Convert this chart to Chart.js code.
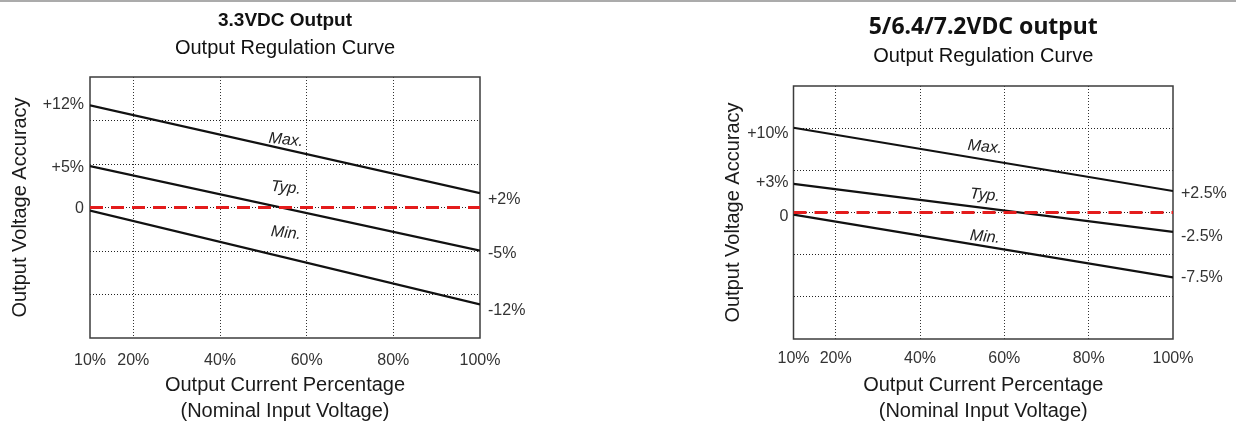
<!DOCTYPE html>
<html lang="en">
<head>
    <meta charset="UTF-8">
    <title>Output Regulation Curves</title>
    <script src="https://cdn.jsdelivr.net/npm/chart.js"></script>
    <style>
        body { margin: 0; width: 1236px; height: 426px; overflow: hidden; position: relative; background: #fff; }
        .rule { position: absolute; left: 0; top: 0; width: 1236px; height: 2px; background: #ababab; }
        canvas { position: absolute; top: 0; }
    </style>
</head>
<body>
    <div class="rule"></div>
    <canvas id="chart33" width="580" height="426" style="left:0; width:580px; height:426px"></canvas>
    <canvas id="chart5" width="536" height="426" style="left:720px; width:536px; height:426px"></canvas>

    <script>
        // x = output current (%), y = deviation in grid divisions (the drawing is schematic)
        const currentPct = [10, 100];
        const xTicks = [10, 20, 40, 60, 80, 100];
        const nominal = [0, 0];
        const curveNames = ['Max.', 'Typ.', 'Min.'];

        // 3.3VDC output
        const max33 = [2.35, 0.33];
        const typ33 = [0.95, -0.99];
        const min33 = [-0.07, -2.23];
        const startLabels33 = ['+12%', '+5%', '0'];
        const endLabels33 = ['+2%', '-5%', '-12%'];

        // 5/6.4/7.2VDC output
        const max5 = [2.01, 0.51];
        const typ5 = [0.68, -0.46];
        const min5 = [-0.05, -1.54];
        const startLabels5 = ['+10%', '+3%', '0'];
        const endLabels5 = ['+2.5%', '-2.5%', '-7.5%'];

        Chart.defaults.font.family = "'Liberation Sans', Arial, sans-serif";

        function points(series) {
            return currentPct.map((x, i) => ({ x: x, y: series[i] }));
        }

        function curve(series) {
            return { data: points(series), borderColor: '#111', borderWidth: 2.2, pointRadius: 0, fill: false };
        }

        // frame, left/right percentage labels and the Max./Typ./Min. names
        function marksPlugin(cfg) {
            return {
                id: 'marks',
                beforeDatasetsDraw(chart) {
                    const { ctx, chartArea: a } = chart;
                    ctx.save();
                    ctx.strokeStyle = '#3c3c3c';
                    ctx.lineWidth = 1.5;
                    ctx.strokeRect(a.left, a.top, a.right - a.left, a.bottom - a.top);
                    ctx.restore();
                },
                afterDraw(chart) {
                    const { ctx, chartArea: a } = chart;
                    const xs = chart.scales.x, ys = chart.scales.y;
                    const starts = [cfg.max[0], cfg.typ[0], 0];
                    const ends = [cfg.max[1], cfg.typ[1], cfg.min[1]];
                    ctx.save();
                    ctx.fillStyle = '#333';
                    ctx.font = "16px 'Liberation Sans', Arial, sans-serif";
                    ctx.textBaseline = 'middle';
                    ctx.textAlign = 'right';
                    cfg.startLabels.forEach((t, i) => {
                        ctx.fillText(t, a.left - cfg.startGap, ys.getPixelForValue(starts[i]) + cfg.startShift[i]);
                    });
                    ctx.textAlign = 'left';
                    cfg.endLabels.forEach((t, i) => {
                        ctx.fillText(t, a.right + 8, ys.getPixelForValue(ends[i]) + cfg.endShift[i]);
                    });
                    ctx.fillStyle = '#222';
                    ctx.font = "italic 16px 'Liberation Sans', Arial, sans-serif";
                    ctx.textAlign = 'center';
                    curveNames.forEach((t, i) => {
                        ctx.save();
                        ctx.translate(xs.getPixelForValue(cfg.nameX), ys.getPixelForValue(cfg.nameY[i]));
                        ctx.rotate(0.1);
                        ctx.fillText(t, 0, 0);
                        ctx.restore();
                    });
                    ctx.restore();
                }
            };
        }

        function makeChart(id, cfg) {
            return new Chart(document.getElementById(id), {
                type: 'line',
                data: {
                    datasets: [
                        { data: points(nominal), borderColor: '#e41c1c', borderWidth: 3, borderDash: [13, 8], pointRadius: 0, fill: false },
                        curve(cfg.max),
                        curve(cfg.typ),
                        curve(cfg.min)
                    ]
                },
                options: {
                    responsive: false,
                    animation: false,
                    layout: { padding: { top: 0, right: cfg.padRight, bottom: 0, left: 0 } },
                    plugins: {
                        legend: { display: false },
                        tooltip: { enabled: false },
                        title: {
                            display: true,
                            fullSize: false,
                            text: cfg.title,
                            color: '#111',
                            font: cfg.titleFont,
                            padding: cfg.titlePad
                        },
                        subtitle: {
                            display: true,
                            fullSize: false,
                            text: 'Output Regulation Curve',
                            color: '#111',
                            font: { size: 20 },
                            padding: cfg.subPad
                        }
                    },
                    scales: {
                        x: {
                            type: 'linear',
                            min: 10,
                            max: 100,
                            afterBuildTicks: axis => { axis.ticks = xTicks.map(v => ({ value: v })); },
                            afterFit: axis => { axis.height = cfg.xHeight; },
                            grid: {
                                color: c => (c.tick && (c.tick.value === 10 || c.tick.value === 100)) ? 'rgba(0,0,0,0)' : '#333',
                                lineWidth: 1,
                                drawTicks: false
                            },
                            border: { display: false, dash: [1, 2] },
                            ticks: {
                                autoSkip: false,
                                maxRotation: 0,
                                padding: cfg.tickPad,
                                color: '#333',
                                font: { size: 16 },
                                callback: v => v + '%'
                            },
                            title: {
                                display: true,
                                text: ['Output Current Percentage', '(Nominal Input Voltage)'],
                                color: '#1a1a1a',
                                font: { size: 20, lineHeight: 1.3 },
                                padding: { top: 0, bottom: 2 }
                            }
                        },
                        y: {
                            min: -3,
                            max: 3,
                            afterFit: axis => { axis.width = cfg.yWidth; },
                            ticks: { display: false, stepSize: 1 },
                            grid: {
                                color: c => (c.tick && (c.tick.value === 3 || c.tick.value === -3)) ? 'rgba(0,0,0,0)' : '#222',
                                lineWidth: 1,
                                drawTicks: false
                            },
                            border: { display: false, dash: [1, 2] },
                            title: {
                                display: true,
                                text: 'Output Voltage Accuracy',
                                color: '#1a1a1a',
                                font: { size: 20 },
                                padding: { top: cfg.yTitlePad, bottom: 0 }
                            }
                        }
                    }
                },
                plugins: [marksPlugin(cfg)]
            });
        }

        makeChart('chart33', {
            title: '3.3VDC Output',
            titleFont: { size: 19, weight: 'bold' },
            titlePad: { top: 9.5, bottom: 0 },
            subPad: { top: 3.7, bottom: 17 },
            padRight: 100, yWidth: 90, xHeight: 88, tickPad: 13, yTitlePad: 8,
            max: max33, typ: typ33, min: min33,
            startLabels: startLabels33, endLabels: endLabels33, startGap: 6,
            startShift: [-1, 1, 1.5], endShift: [6, 3, 6],
            nameX: 55.2, nameY: [1.55, 0.45, -0.59]
        });

        makeChart('chart5', {
            title: '5/6.4/7.2VDC output',
            titleFont: { family: "'Noto Sans', sans-serif", size: 23, weight: 'bold' },
            titlePad: { top: 13.2, bottom: 0 },
            subPad: { top: 3.2, bottom: 18 },
            padRight: 83, yWidth: 73.5, xHeight: 87, tickPad: 10, yTitlePad: 1,
            max: max5, typ: typ5, min: min5,
            startLabels: startLabels5, endLabels: endLabels5, startGap: 5,
            startShift: [6, -1, 4.5], endShift: [3, 5, 0],
            nameX: 55.4, nameY: [1.55, 0.41, -0.58]
        });
    </script>
</body>
</html>
